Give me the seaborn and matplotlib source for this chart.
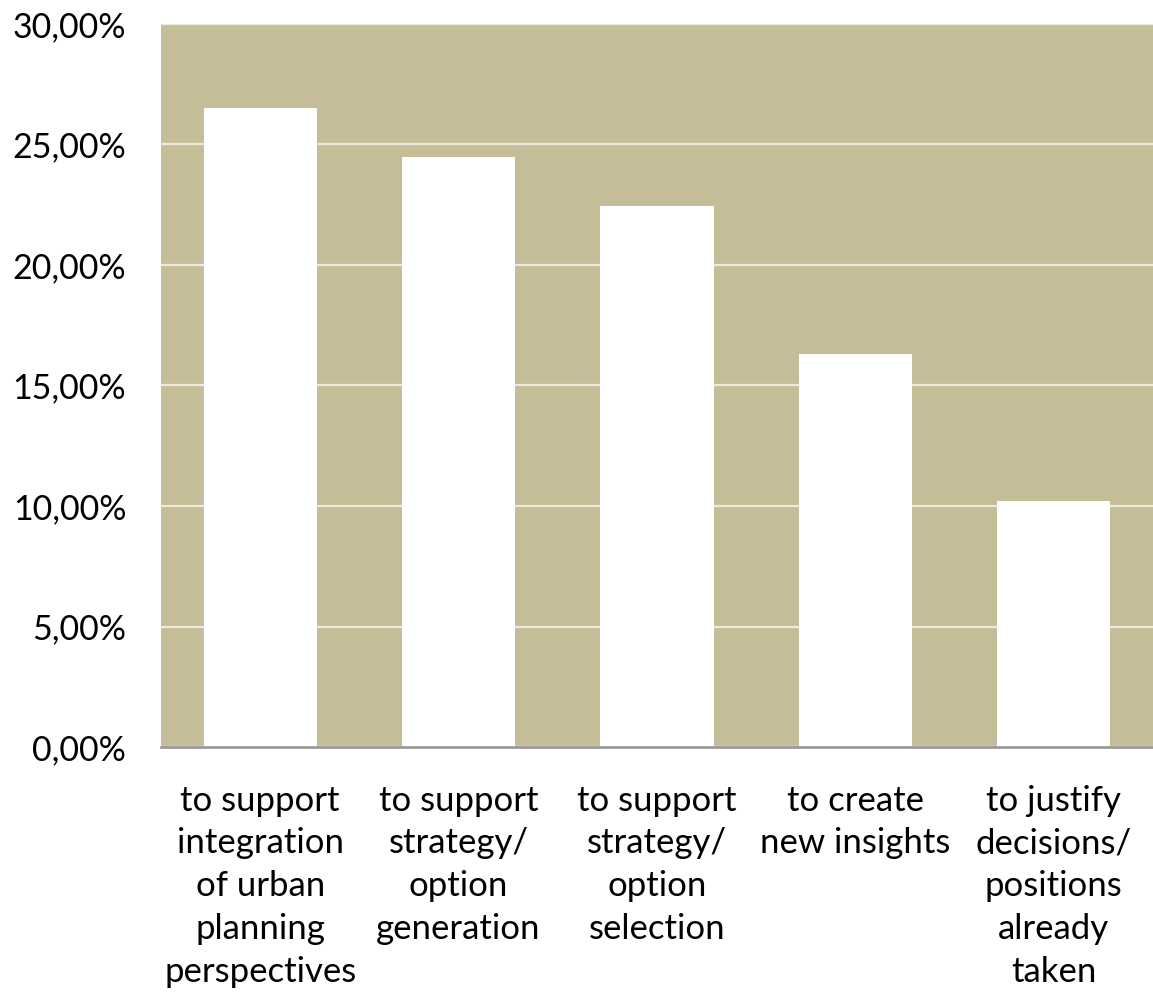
import matplotlib
matplotlib.use("Agg")
import matplotlib.pyplot as plt
import seaborn as sns
import pandas as pd
from matplotlib.ticker import FuncFormatter, MultipleLocator

categories = [
    "to support\nintegration\nof urban\nplanning\nperspectives",
    "to support\nstrategy/\noption\ngeneration",
    "to support\nstrategy/\noption\nselection",
    "to create\nnew insights",
    "to justify\ndecisions/\npositions\nalready\ntaken",
]
shares = [26.5, 24.5, 22.45, 16.3, 10.2]

df = pd.DataFrame({"purpose": categories, "share": shares})

sns.set_style("white")
plt.rcParams["font.family"] = ["Lato", "DejaVu Sans"]

fig = plt.figure(figsize=(11.53, 9.96), dpi=100)
ax = fig.add_axes([161 / 1153, 1 - 747 / 996, 992 / 1153, 723 / 996])
ax.set_facecolor("#C5BD98")

sns.barplot(data=df, x="purpose", y="share", color="white", width=0.57,
            saturation=1, ax=ax, zorder=3, edgecolor="none")

ax.set_ylim(0, 30)
ax.set_xlim(-0.5, 4.5)
ax.yaxis.set_major_locator(MultipleLocator(5))
ax.yaxis.set_major_formatter(FuncFormatter(lambda v, p: f"{v:.2f}%".replace(".", ",")))
ax.grid(axis="y", color="#EEEADB", linewidth=1.6, zorder=1)
ax.set_axisbelow(True)

for side in ["top", "right", "left"]:
    ax.spines[side].set_visible(False)
ax.spines["bottom"].set_color("#9A9A9A")
ax.spines["bottom"].set_linewidth(2)
ax.spines["bottom"].set_zorder(4)

ax.tick_params(axis="y", length=0, pad=25, labelsize=24.5, labelcolor="black")
ax.tick_params(axis="x", length=0, pad=27, labelsize=25, labelcolor="black")
for lbl in ax.get_xticklabels():
    lbl.set_multialignment("center")
    lbl.set_linespacing(1.42)
ax.set_xlabel("")
ax.set_ylabel("")

fig.savefig("out.png", dpi=100, facecolor="white")
